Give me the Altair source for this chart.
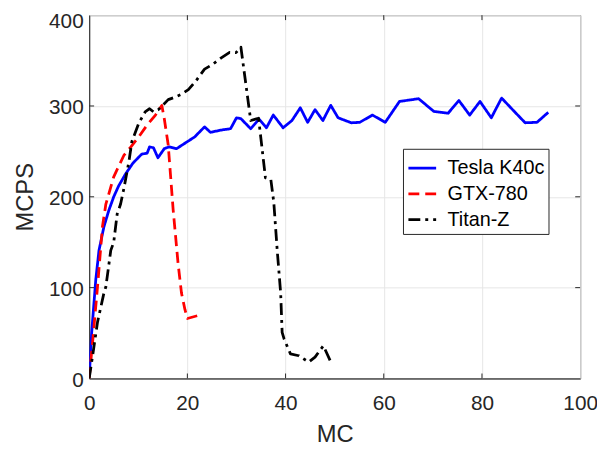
import altair as alt
import pandas as pd

# ---- data ----
tesla_mc = [0.1, 0.5, 1.35, 2.0, 3.0, 4.0, 5.0, 6.0, 7.4, 8.9, 10.7, 11.8, 12.3, 13.1, 14.0,
            15.3, 16.3, 17.8, 19.5, 21.5, 23.5, 24.7, 26.9, 28.8, 30.0, 30.9, 32.9, 34.6,
            36.1, 37.5, 39.5, 41.3, 43.0, 44.5, 46.0, 47.6, 49.2, 50.7, 53.4, 55.1, 57.7,
            60.3, 63.2, 67.1, 70.2, 73.1, 75.3, 77.5, 79.6, 81.9, 84.0, 86.4, 88.8, 91.2, 93.5]
tesla_v = [10, 50, 109, 141, 167, 185, 200, 212, 225, 237, 247, 248, 255, 254, 243,
           253, 255, 253, 259, 266, 277, 271, 273.5, 275, 287, 286, 275, 285.5,
           276, 290, 276, 284, 298, 282, 296, 284, 300.7, 287, 281.5, 282, 290,
           282, 305, 308, 294, 292, 306, 290, 305, 287, 308.7, 295, 281.5, 282, 293]

gtx_mc = [0.0, 0.7, 1.7, 2.7, 3.4, 5.0, 7.1, 8.5, 10.1, 11.8, 13.5, 14.8, 15.3, 16.1,
          17.1, 18.1, 18.8, 19.5, 20.0, 22.0]
gtx_v = [0, 40, 101, 167, 192, 222, 246, 255, 266, 279, 290, 300.6, 286, 257,
         186, 127, 94, 76, 66, 69]

titan_mc = [0.0, 0.7, 1.7, 3.0, 3.4, 4.4, 5.0, 5.7, 6.4, 7.1, 8.1, 8.7, 10.1, 11.4, 12.3,
            13.1, 14.1, 16.1, 17.5, 18.8, 20.2, 21.8, 23.5, 25.2, 26.9, 28.6, 29.9, 30.9,
            32.9, 34.5, 35.9, 37.0, 37.6, 38.3, 39.0, 39.3, 39.7, 41.0, 42.7, 44.7, 46.0,
            47.7, 49.4]
titan_v = [0, 25, 62, 94, 101, 141, 150, 181, 192, 210, 239, 261, 281, 293.5, 297,
           293.5, 296, 307, 309.8, 313, 318, 328, 340.6, 346, 353, 359, 358.7, 364.8,
           284, 286.5, 221, 219, 194, 141, 94, 50.7, 43.5, 27, 25, 18, 23.5,
           36, 16]

series_names = ["Tesla K40c", "GTX-780", "Titan-Z"]
series_colors = ["#0000ff", "#ff0000", "#000000"]
series_dash = [[1, 0], [11, 6], [12, 5, 3, 5]]

x_ticks = [0, 20, 40, 60, 80, 100]
y_ticks = [0, 100, 200, 300, 400]

rows = []
for name, xs, ys in [(series_names[0], tesla_mc, tesla_v),
                     (series_names[1], gtx_mc, gtx_v),
                     (series_names[2], titan_mc, titan_v)]:
    for i, (a, b) in enumerate(zip(xs, ys)):
        rows.append({"series": name, "MC": a, "MCPS": b, "order": i})
df = pd.DataFrame(rows)

FONT = "Liberation Sans"
TXT = "#262626"
W, H = 496, 367

xscale = alt.Scale(domain=[0, 100], nice=False, zero=False)
yscale = alt.Scale(domain=[0, 400], nice=False, zero=False)

legend_kw = dict(title=None, orient="none", legendX=317, legendY=135,
                 symbolType="stroke", symbolSize=784, symbolStrokeWidth=2.8,
                 labelFontSize=20, labelFont=FONT, labelColor="#000000",
                 labelOffset=10, rowPadding=0, padding=4,
                 strokeColor="#262626", fillColor="#ffffff", labelLimit=300)

lines = alt.Chart(df).mark_line(strokeWidth=2.8, strokeJoin="round", clip=True).encode(
    x=alt.X("MC:Q", scale=xscale,
            axis=alt.Axis(title="MC", values=x_ticks, grid=True, ticks=False,
                          labelFlush=False, labelOverlap=False,
                          labelPadding=14, titlePadding=10, format="d")),
    y=alt.Y("MCPS:Q", scale=yscale,
            axis=alt.Axis(title="MCPS", values=y_ticks, grid=True, ticks=False,
                          labelFlush=False, labelOverlap=False,
                          labelPadding=6,
                          labelOffset={"condition": {"test": "datum.value == 400", "value": 6},
                                       "value": 2},
                          titlePadding=11, format="d")),
    color=alt.Color("series:N",
                    scale=alt.Scale(domain=series_names, range=series_colors),
                    legend=alt.Legend(**legend_kw)),
    strokeDash=alt.StrokeDash("series:N",
                              scale=alt.Scale(domain=series_names, range=series_dash),
                              legend=alt.Legend(**legend_kw)),
    order="order:Q",
)

xt = pd.DataFrame({"v": x_ticks[1:-1]})
yt = pd.DataFrame({"v": y_ticks[1:-1]})
tick_style = dict(color=TXT, strokeWidth=1)
tb = alt.Chart(xt).mark_rule(**tick_style).encode(
    x=alt.X("v:Q", scale=xscale), y=alt.value(H), y2=alt.value(H - 5))
tt = alt.Chart(xt).mark_rule(**tick_style).encode(
    x=alt.X("v:Q", scale=xscale), y=alt.value(0), y2=alt.value(5))
tl = alt.Chart(yt).mark_rule(**tick_style).encode(
    y=alt.Y("v:Q", scale=yscale), x=alt.value(0), x2=alt.value(5))
tr = alt.Chart(yt).mark_rule(**tick_style).encode(
    y=alt.Y("v:Q", scale=yscale), x=alt.value(W), x2=alt.value(W - 5))

chart = alt.layer(lines, tb, tt, tl, tr).properties(
    width=W, height=H,
    autosize=alt.AutoSizeParams(type="none"),
    padding={"left": 82, "top": 5, "right": 17, "bottom": 66},
    background="#ffffff",
).configure_axis(
    labelFont=FONT, labelFontSize=21, labelColor=TXT,
    titleFont=FONT, titleFontSize=24, titleColor=TXT, titleFontWeight="normal",
    domainColor=TXT, domainWidth=1,
    gridColor="#e6e6e6", gridWidth=1,
).configure_view(stroke=TXT, strokeWidth=1)

chart.save("out.html", embed_options={"renderer": "svg", "actions": False})
